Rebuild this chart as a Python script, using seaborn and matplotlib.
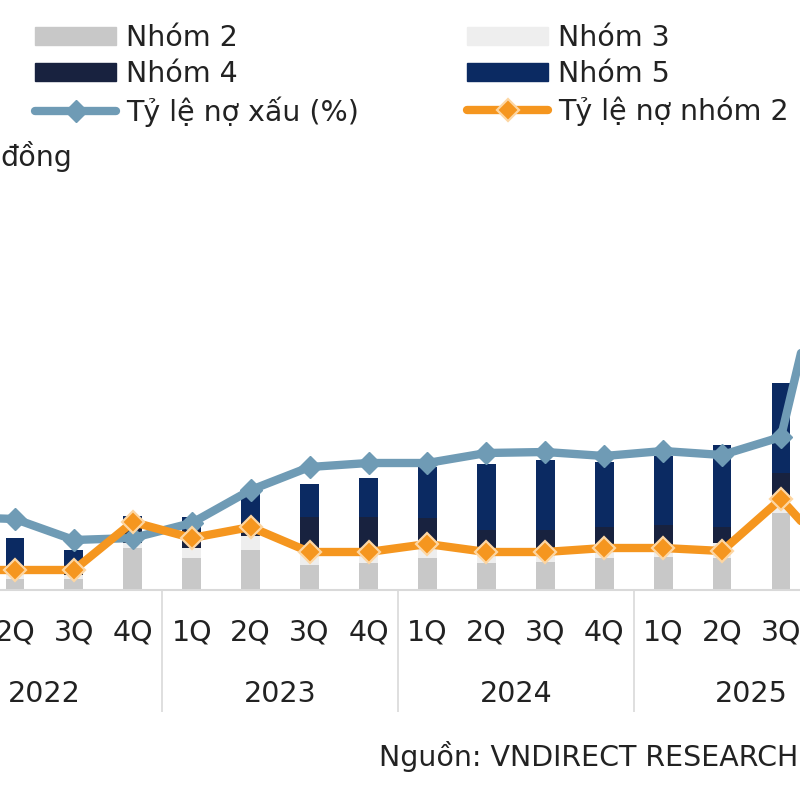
import matplotlib
matplotlib.use("Agg")
import matplotlib.pyplot as plt
import matplotlib.transforms as mtransforms
from matplotlib.patches import Patch
from matplotlib.lines import Line2D
import numpy as np
import seaborn as sns

# Quarterly data, 1Q2022 - 4Q2025
quarters = ["1Q", "2Q", "3Q", "4Q"] * 4
years = ["2022", "2023", "2024", "2025"]

# Bad debt by group (stacked bars, left axis)
nhom2 = [1.1, 1.1, 1.1, 4.2, 3.2, 4.0, 2.5, 2.7, 3.2, 2.7, 2.8, 3.2, 3.3, 3.2, 7.7, 6.0]
nhom3 = [0.5, 0.5, 0.4, 0.5, 1.0, 1.4, 1.3, 1.0, 1.3, 1.3, 1.2, 1.1, 1.1, 1.5, 1.3, 1.5]
nhom4 = [0.8, 0.8, 1.0, 2.3, 1.8, 1.4, 3.5, 3.6, 2.7, 2.0, 2.0, 2.0, 2.1, 1.6, 2.7, 3.0]
nhom5 = [2.5, 2.8, 1.5, 0.4, 1.3, 2.9, 3.3, 3.9, 5.1, 6.6, 7.0, 6.5, 6.9, 8.2, 9.0, 14.0]

# Ratios in % (lines, right axis)
npl_ratio = [1.46, 1.42, 1.00, 1.04, 1.34, 2.00, 2.46, 2.54, 2.54, 2.74, 2.76, 2.68, 2.78, 2.70, 3.06, 8.0]
nhom2_ratio = [0.40, 0.40, 0.40, 1.36, 1.04, 1.26, 0.76, 0.76, 0.92, 0.76, 0.76, 0.84, 0.84, 0.78, 1.82, 0.52]

c_n2 = "#c8c8c8"
c_n3 = "#eeeeee"
c_n4 = "#18223f"
c_n5 = "#0b2a62"
c_npl = "#6f9bb5"
c_or = "#f5961f"
c_txt = "#222222"

sns.set_theme(style="white")
plt.rcParams["font.family"] = ["DejaVu Sans"]
fs = 20.5

idx = np.arange(len(quarters))
s2 = np.array(nhom2)
s3 = s2 + np.array(nhom3)
s4 = s3 + np.array(nhom4)
s5 = s4 + np.array(nhom5)

fig = plt.figure(figsize=(8, 8), dpi=100)
ax = fig.add_axes([0, 0.2625, 1, 0.5])

# stacked bars drawn as overlaid cumulative totals
for tot, col in [(s5, c_n5), (s4, c_n4), (s3, c_n3), (s2, c_n2)]:
    sns.barplot(x=idx, y=tot, ax=ax, color=col, width=0.32, errorbar=None,
                saturation=1, linewidth=0)

ax2 = ax.twinx()
sns.lineplot(x=idx, y=npl_ratio, ax=ax2, color=c_npl, linewidth=6, marker="D",
             markersize=11, markeredgecolor=c_npl, markeredgewidth=1, sort=False)
sns.lineplot(x=idx, y=nhom2_ratio, ax=ax2, color=c_or, linewidth=6, marker="D",
             markersize=11, markeredgecolor="#fdd6a2", markeredgewidth=1.6, sort=False)

for a in (ax, ax2):
    a.set_xlabel("")
    a.set_ylabel("")
    a.set_yticks([])
    for sp in a.spines.values():
        sp.set_visible(False)
ax.spines["bottom"].set_visible(True)
ax.spines["bottom"].set_color("#d9d9d9")
ax.spines["bottom"].set_linewidth(1.5)

ax.set_xticks(idx, labels=quarters)
ax.set_xticks([-0.5, 3.5, 7.5, 11.5, 15.5], minor=True)
ax.tick_params(axis="x", which="major", bottom=True, length=0, pad=20.5,
               labelsize=fs, labelcolor=c_txt)
ax.tick_params(axis="x", which="minor", bottom=True, length=88, width=1.2,
               color="#d9d9d9", direction="out")

# the view is cropped: 1Q22 and 4Q25 sit just outside the frame
xmin = 0.7454
xmax = xmin + 800 / 58.92
ax.set_xlim(xmin, xmax)
ax2.set_xlim(xmin, xmax)
ax.set_ylim(0, 40)
ax2.set_ylim(0, 8)

trans = mtransforms.blended_transform_factory(ax.transData, ax.transAxes)
for k, yr in enumerate(years):
    ax.text(4 * k + 1.5, -0.26, yr, transform=trans, ha="center", va="center",
            fontsize=fs, color=c_txt)

# legends (two columns)
h_left = [Patch(color=c_n2), Patch(color=c_n4),
          Line2D([], [], color=c_npl, lw=6, marker="D", markersize=11, markeredgecolor=c_npl)]
h_right = [Patch(color=c_n3), Patch(color=c_n5),
           Line2D([], [], color=c_or, lw=6, marker="D", markersize=11,
                  markeredgecolor="#fdd6a2", markeredgewidth=1.6)]
leg_kw = dict(loc="upper left", frameon=False, fontsize=fs, handlelength=2.85,
              handleheight=0.62, handletextpad=0.35, labelspacing=0.29,
              borderpad=0, borderaxespad=0, labelcolor=c_txt)
fig.legend(h_left, ["Nhóm 2", "Nhóm 4", "Tỷ lệ nợ xấu (%)"],
           bbox_to_anchor=(35 / 800, 1 - 24 / 800), **leg_kw)
fig.legend(h_right, ["Nhóm 3", "Nhóm 5", "Tỷ lệ nợ nhóm 2"],
           bbox_to_anchor=(467 / 800, 1 - 24 / 800), **leg_kw)

fig.text(0.0, 1 - 157 / 800, "đồng", ha="left", va="center", fontsize=fs, color=c_txt)
fig.text(798 / 800, 1 - 757 / 800, "Nguồn: VNDIRECT RESEARCH", ha="right", va="center",
         fontsize=fs, color=c_txt)

fig.savefig("out.png", dpi=100)
